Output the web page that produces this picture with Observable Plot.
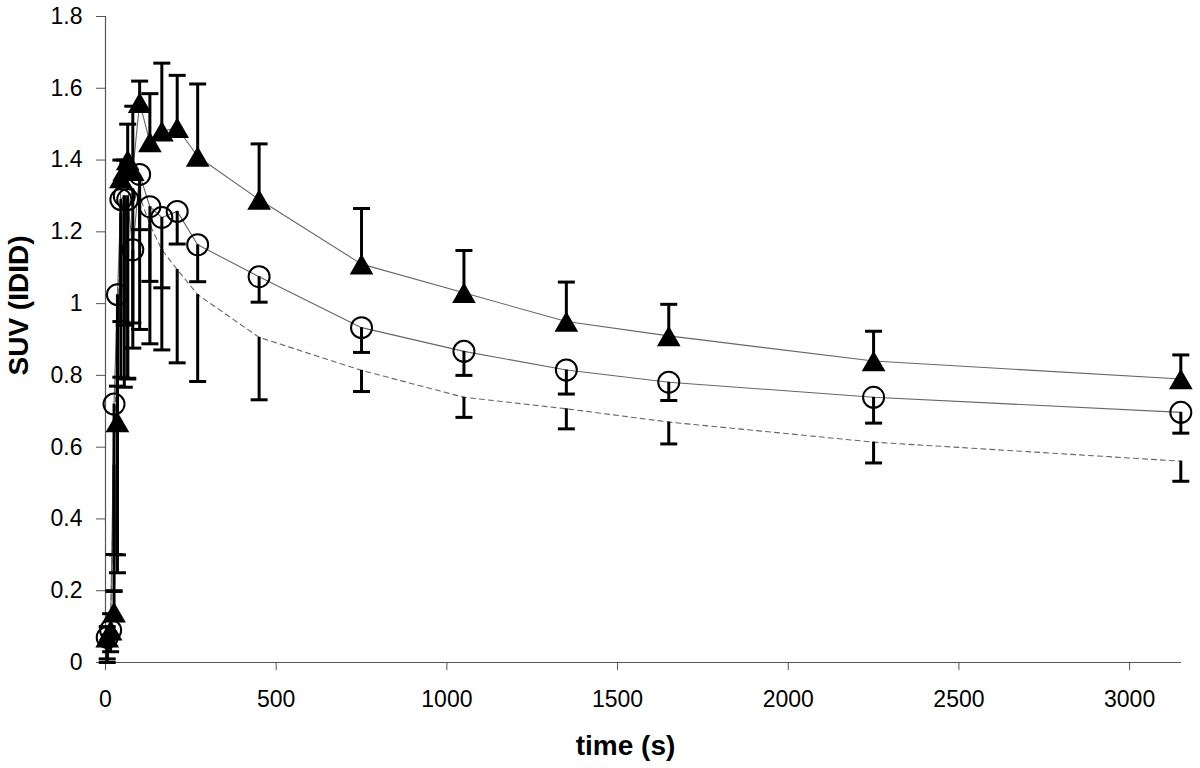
<!DOCTYPE html>
<html><head><meta charset="utf-8">
<script src="https://cdn.jsdelivr.net/npm/d3@7"></script>
<script src="https://cdn.jsdelivr.net/npm/@observablehq/plot@0.6"></script>
<style>body{margin:0;background:#fff;} #chart svg{display:block;}</style>
</head><body><div id="chart"></div>
<script>
// Frame mid-times (s)
const times = [5, 15, 25, 35, 45, 55, 65, 80, 100, 130, 165, 210, 270, 450, 750, 1050, 1350, 1650, 2250, 3150];
// Triangle series: mean and upper error value
const triMean  = [0.07, 0.09, 0.14, 0.67, 1.35, 1.37, 1.40, 1.37, 1.56, 1.45, 1.48, 1.49, 1.41, 1.29, 1.11, 1.03, 0.95, 0.91, 0.84, 0.79];
const triUpper = [0.10, 0.136, 0.20, 0.77, 1.40, 1.40, 1.50, 1.55, 1.62, 1.585, 1.67, 1.636, 1.612, 1.445, 1.265, 1.148, 1.06, 0.998, 0.923, 0.857];
// Circle series: mean and lower error value
const circMean  = [0.07, 0.09, 0.72, 1.025, 1.29, 1.30, 1.29, 1.15, 1.36, 1.27, 1.24, 1.257, 1.164, 1.075, 0.933, 0.867, 0.815, 0.781, 0.739, 0.697];
const circLower = [0.01, 0.03, 0.198, 0.25, 0.95, 0.94, 0.79, 0.876, 1.206, 1.062, 1.044, 1.166, 1.061, 1.004, 0.864, 0.80, 0.748, 0.73, 0.667, 0.639];
// Dashed series (no markers): mean and lower error value
const dashMean  = [0.05, 0.12, 0.55, 0.95, 1.25, 1.30, 1.30, 1.32, 1.30, 1.22, 1.15, 1.095, 1.025, 0.906, 0.814, 0.739, 0.707, 0.67, 0.614, 0.561];
const dashLower = [0.0, 0.077, 0.301, 0.30, 0.795, 0.767, 0.792, 0.946, 0.928, 0.888, 0.871, 0.835, 0.783, 0.732, 0.755, 0.683, 0.651, 0.609, 0.556, 0.505];

const xTicks = [0, 500, 1000, 1500, 2000, 2500, 3000];
const yTicks = [0, 0.2, 0.4, 0.6, 0.8, 1, 1.2, 1.4, 1.6, 1.8];
const yTickLabels = ["0", "0.2", "0.4", "0.6", "0.8", "1", "1.2", "1.4", "1.6", "1.8"];
const xLabel = "time (s)";
const yLabel = "SUV (IDID)";

const tri = times.map((t, i) => ({t, v: triMean[i], e: triUpper[i]}));
const circ = times.map((t, i) => ({t, v: circMean[i], e: circLower[i]}));
const dash = times.map((t, i) => ({t, v: dashMean[i], e: dashLower[i]}));

const cap = {draw(ctx, size) { const w = Math.sqrt(size / Math.PI); ctx.moveTo(-w, 0); ctx.lineTo(w, 0); }};

const barStyle = {stroke: "#000", strokeWidth: 3};
const capStyle = {symbol: cap, r: 8.5, fill: "none", stroke: "#000", strokeWidth: 3};

const chart = Plot.plot({
  width: 1200, height: 768,
  marginLeft: 105, marginRight: 19, marginTop: 16, marginBottom: 106,
  style: {fontFamily: "Arial, 'Liberation Sans', sans-serif", fontSize: "22px", color: "#000", background: "#fff"},
  x: {domain: [0, 3152]},
  y: {domain: [0, 1.8]},
  marks: [
    Plot.axisY(yTicks, {tickSize: 9, tickPadding: 14, tickFormat: d => yTickLabels[yTicks.indexOf(d)], label: null, stroke: "#555", fontSize: 23}),
    Plot.axisX(xTicks, {tickSize: 8, tickPadding: 20, tickFormat: d => String(d), label: null, stroke: "#555", fontSize: 23}),
    Plot.ruleX([0], {stroke: "#555", strokeWidth: 1.2}),
    Plot.ruleY([0], {stroke: "#555", strokeWidth: 1.2}),
    // lines
    Plot.line(dash, {x: "t", y: "v", stroke: "#666", strokeWidth: 1.1, strokeDasharray: "5,4"}),
    Plot.line(circ, {x: "t", y: "v", stroke: "#666", strokeWidth: 1.1}),
    Plot.line(tri, {x: "t", y: "v", stroke: "#666", strokeWidth: 1.1}),
    // error bars
    Plot.ruleX(dash, {x: "t", y1: "v", y2: "e", ...barStyle}),
    Plot.dot(dash, {x: "t", y: "e", ...capStyle}),
    Plot.ruleX(circ, {x: "t", y1: "v", y2: "e", ...barStyle}),
    Plot.dot(circ, {x: "t", y: "e", ...capStyle}),
    Plot.ruleX(tri, {x: "t", y1: "v", y2: "e", ...barStyle}),
    Plot.dot(tri, {x: "t", y: "e", ...capStyle}),
    // markers
    Plot.dot(circ, {x: "t", y: "v", r: 10.5, fill: "none", stroke: "#000", strokeWidth: 2}),
    Plot.dot(tri, {x: "t", y: "v", symbol: "triangle", r: 8.8, fill: "#000", stroke: "none", dy: 3.4}),
    // axis titles
    Plot.text([yLabel], {frameAnchor: "left", text: d => d, rotate: -90, textAnchor: "middle", lineAnchor: "middle", dx: -86, dy: -34, fontWeight: "bold", fontSize: 28}),
    Plot.text([xLabel], {frameAnchor: "bottom", text: d => d, textAnchor: "middle", lineAnchor: "middle", dx: -18, dy: 84, fontWeight: "bold", fontSize: 28})
  ]
});
document.getElementById("chart").appendChild(chart);
</script>
</body></html>
